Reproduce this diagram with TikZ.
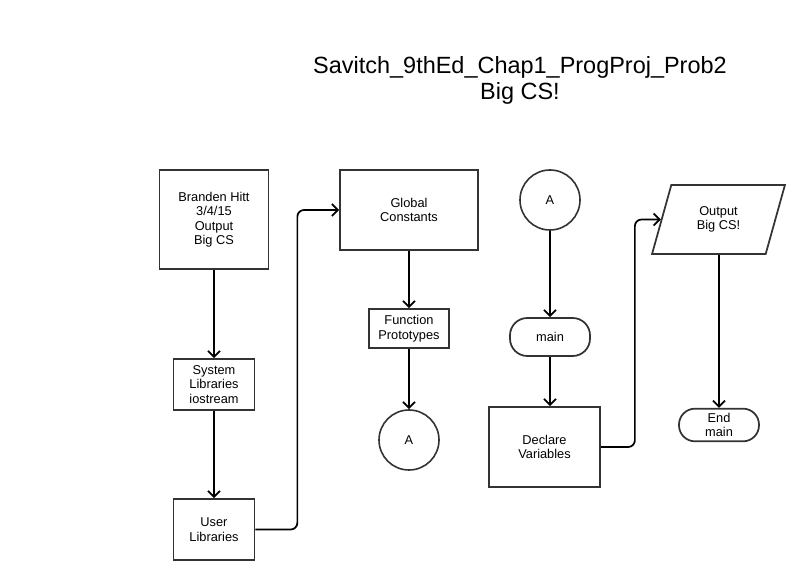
\documentclass[tikz,border=0pt]{standalone}
\usepackage{fontspec}
\setmainfont{Liberation Sans}
\usetikzlibrary{arrows.meta,shapes.geometric}

\tikzset{
  box/.style={draw=black!80, line width=1.3pt, align=center, font=\fontsize{9.6}{10.8}\selectfont},
  conn/.style={draw=black!80, line width=1.2pt, circle, minimum size=45pt, inner sep=0pt, font=\fontsize{9.6}{10.8}\selectfont},
  term/.style={box, rounded corners=13pt},
  io/.style={box, trapezium, trapezium left angle=73, trapezium right angle=107, trapezium stretches=true},
  arr/.style={line width=1.3pt, -{Straight Barb[length=4.5pt,width=9pt,line width=1.3pt]}},
}

\begin{document}
\begin{tikzpicture}[x=0.75pt, y=-0.75pt]
  \useasboundingbox[fill=white] (0,0) rectangle (794,580);

  % title
  \node[align=center, font=\fontsize{17.6}{19.5}\selectfont] (title) at (520,80)
    {Savitch\_9thEd\_Chap1\_ProgProj\_Prob2\\Big CS!};

  % left column
  \node[box, minimum width=81.75pt, minimum height=74.25pt] (head) at (214,219.5)
    {Branden Hitt\\3/4/15\\Output\\Big CS};
  \node[box, minimum width=60.75pt, minimum height=38.25pt] (syslib) at (214,384.5)
    {System\\Libraries\\iostream};
  \node[box, minimum width=60.75pt, minimum height=45.75pt] (userlib) at (214,529.5)
    {User\\Libraries};

  % middle column
  \node[box, minimum width=103.5pt, minimum height=60pt] (globals) at (409,210)
    {Global\\Constants};
  \node[box, minimum width=60pt, minimum height=29.25pt] (protos) at (409,328.5)
    {Function\\Prototypes};
  \node[conn] (offA) at (409,440) {A};

  % right columns
  \node[conn] (onA) at (550,200) {A};
  \node[term, minimum width=60pt, minimum height=28.5pt] (mainbeg) at (550,337) {main};
  \node[box, minimum width=83.25pt, minimum height=60pt] (decl) at (544.5,447)
    {Declare\\Variables};
  \node[io, minimum width=99.75pt, minimum height=51.75pt] (output) at (718.5,219.5)
    {Output\\Big CS!};
  \node[term, rounded corners=12pt, minimum width=60pt, minimum height=24pt] (mainend) at (719,425)
    {End\\main};

  % flow
  \draw[arr] (head) -- (syslib);
  \draw[arr] (syslib) -- (userlib);
  \draw[arr, rounded corners=5pt] (userlib.east) -- ++(42,0) |- (globals.west);
  \draw[arr] (globals) -- (protos);
  \draw[arr] (protos) -- (offA);
  \draw[arr] (onA) -- (mainbeg);
  \draw[arr] (mainbeg) -- (mainbeg |- decl.north);
  \draw[arr, rounded corners=5pt] (decl.east) -- ++(34,0) |- (output.west);
  \draw[arr] (mainend |- output.south) -- (mainend);
\end{tikzpicture}
\end{document}
